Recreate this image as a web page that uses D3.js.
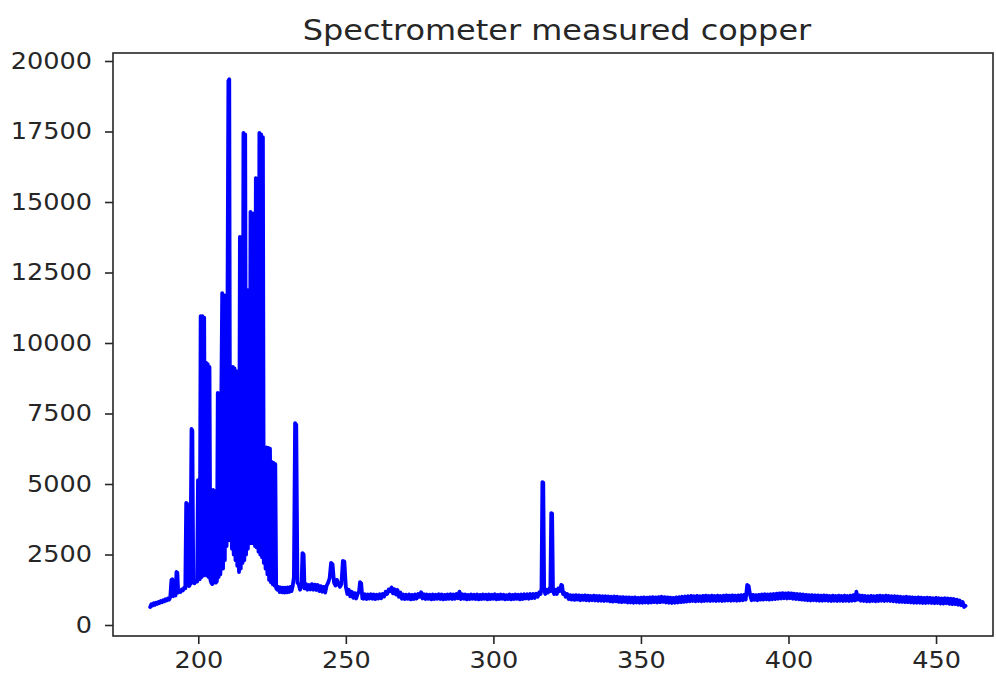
<!DOCTYPE html>
<html>
<head>
<meta charset="utf-8">
<script src="https://d3js.org/d3.v7.min.js"></script>
<style>
    body { margin: 0; background: #fff; }
    text { font-family: "DejaVu Sans", sans-serif; fill: #262626; }
</style>
</head>
<body>
<div id="chart"></div>
<script>
// wavelength (nm) / counts

// rising edge 184-200 nm
var onsetNm = [
    183.7,184.1,184.5,184.9,185.3,185.7,186.1,186.5,186.9,187.3,187.7,188.1,188.5,188.9,189.3,189.7,190.1,190.5,190.9,191.2,
    191.5,191.9,192.3,192.6,192.9,193.2,193.6,194.0,194.4,194.8,195.2,195.6,195.9,196.2,196.5,196.9,197.3,197.7,198.0,198.3,
    198.7,199.1,199.6
];
var onsetCounts = [
    640,740,690,770,720,790,750,820,780,850,810,880,840,910,870,940,900,980,1600,1620,
    1020,1080,1050,1880,1860,1150,1200,1170,1260,1230,1320,1300,4330,4300,1400,1380,1460,6950,6900,1500,
    1480,1560,1540
];

// dense line cluster 200-227 nm
var clusterNm = [
    199.9,200.2,200.5,200.8,201.1,201.4,201.7,202.0,202.3,202.6,202.9,203.2,203.5,203.8,204.1,204.4,204.7,205.0,205.3,205.6,205.9,206.3,
    206.6,206.9,207.2,207.5,207.8,208.1,208.4,208.7,209.0,209.3,209.6,209.9,210.2,210.5,210.8,211.1,211.4,211.7,212.0,212.3,
    212.6,212.9,213.2,213.5,213.8,214.1,214.4,214.7,215.0,215.3,215.6,215.9,216.2,216.5,216.8,217.1,217.4,217.7,218.0,218.3,
    218.6,218.9,219.2,219.5,219.8,220.1,220.4,220.7,221.0,221.3,221.6,221.9,222.2,222.5,222.8,223.1,223.4,223.7,224.0,224.3,
    224.6,224.9,225.2,225.5,225.8,226.1,226.4,226.8
];
var clusterCounts = [
    5140,5100,1620,10950,1700,10950,1750,10900,1800,9300,1750,9250,1700,9150,1600,1500,1450,4790,1500,4750,1500,1550,
    8230,1700,8200,1800,8100,11770,2000,11700,2300,11600,2800,11500,19300,19350,3000,9000,2700,9150,2500,9100,
    2300,9000,2100,3370,1880,13760,2000,13700,2200,17450,2300,17400,2500,11880,2700,11850,2900,14650,2900,14600,
    2900,14600,2800,15850,2750,15800,2600,17450,2500,17400,2400,17300,2200,3440,2000,6300,1800,6280,1600,6250,
    1520,5780,1450,5750,1400,5700,1300,1250
];

// shoulder 227-256 nm
var shoulderNm = [
    227.2,227.6,228.0,228.4,228.8,229.2,229.6,230.0,230.4,230.8,231.2,231.6,232.0,232.4,232.8,233.2,233.6,234.0,234.5,235.0,
    235.3,235.7,236.0,236.5,237.0,237.5,238.0,238.5,239.0,239.5,240.0,240.5,241.0,241.5,242.0,242.5,243.0,243.5,244.0,244.5,
    245.0,245.5,246.0,246.5,247.0,247.5,248.0,248.5,249.0,249.5,250.0,250.5,251.0,251.5,252.0,252.5,253.0,253.5,254.0,254.5,
    254.8,255.2,255.6
];
var shoulderCounts = [
    1350,1170,1330,1160,1320,1150,1320,1160,1330,1170,1350,1200,1380,1700,7160,7100,1500,1450,1250,1420,
    2550,2500,1300,1450,1250,1420,1260,1450,1250,1430,1240,1420,1200,1380,1180,1350,1150,1400,1500,1650,
    2200,2150,1500,1400,1600,1450,1350,1450,2270,2250,1350,1100,1250,1020,1180,960,1130,940,1100,1200,
    1520,1480,940
];

// plateau 256-316 nm
var plateauNm = [
    256,256.5,257,257.5,258,258.5,259,259.5,260,260.5,261,261.5,262,262.5,263,263.5,264,264.5,265,265.5,
    266,266.5,267,267.5,268,268.5,269,269.5,270,270.5,271,271.5,272,272.5,273,273.5,274,274.5,275,275.5,
    276,276.5,277,277.5,278,278.5,279,279.5,280,280.5,281,281.5,282,282.5,283,283.5,284,284.5,285,285.5,
    286,286.5,287,287.5,288,288.5,289,289.5,290,290.5,291,291.5,292,292.5,293,293.5,294,294.5,295,295.5,
    296,296.5,297,297.5,298,298.5,299,299.5,300,300.5,301,301.5,302,302.5,303,303.5,304,304.5,305,305.5,
    306,306.5,307,307.5,308,308.5,309,309.5,310,310.5,311,311.5,312,312.5,313,313.5,314,314.5,315,315.5
];
var plateauCounts = [
    930,1090,920,1080,940,1090,930,1080,920,1070,940,1090,950,1100,1010,1180,1100,1260,1200,1330,
    1120,1270,1080,1240,1000,1150,930,1080,920,1070,930,1080,910,1070,920,1080,940,1100,1000,1160,
    940,1090,920,1080,930,1070,910,1080,920,1070,930,1090,920,1080,910,1070,920,1080,930,1090,
    920,1080,930,1100,950,1180,920,1090,930,1080,910,1070,920,1080,930,1070,920,1080,910,1070,
    920,1080,930,1070,910,1080,920,1070,930,1090,910,1070,920,1080,930,1070,910,1060,920,1080,
    910,1070,920,1080,930,1070,910,1080,920,1090,940,1090,930,1100,950,1100,960,1110,1000,1150
];

// the 324.8 / 327.4 doublet region
var doubletNm = [
    316,316.3,316.6,316.9,317.2,317.6,318,318.5,319,319.3,319.6,319.9,320.2,320.6,321,321.5,322,322.5,323,323.3,
    323.6,324,324.5,325,325.5
];
var doubletCounts = [
    1100,1300,5070,5050,1250,1100,1250,1150,1300,1200,3970,3950,1200,1100,1250,1100,1300,1200,1420,1400,
    1100,1150,1000,1100,920
];

// long tail 326-460 nm
var tailNm = [
    326,326.5,327,327.5,328,328.5,329,329.5,330,330.5,331,331.5,332,332.5,333,333.5,334,334.5,335,335.5,
    336,336.5,337,337.5,338,338.5,339,339.5,340,340.5,341,341.5,342,342.5,343,343.5,344,344.5,345,345.5,
    346,346.5,347,347.5,348,348.5,349,349.5,350,350.5,351,351.5,352,352.5,353,353.5,354,354.5,355,355.5,
    356,356.5,357,357.5,358,358.5,359,359.5,360,360.5,361,361.5,362,362.5,363,363.5,364,364.5,365,365.5,
    366,366.5,367,367.5,368,368.5,369,369.5,370,370.5,371,371.5,372,372.5,373,373.5,374,374.5,375,375.5,
    376,376.5,377,377.5,378,378.5,379,379.5,380,380.5,381,381.5,382,382.5,383,383.5,384,384.5,385,385.5,
    386,386.5,387,387.5,388,388.5,389,389.5,390,390.5,391,391.5,392,392.5,393,393.5,394,394.5,395,395.5,
    396,396.5,397,397.5,398,398.5,399,399.5,400,400.5,401,401.5,402,402.5,403,403.5,404,404.5,405,405.5,
    406,406.5,407,407.5,408,408.5,409,409.5,410,410.5,411,411.5,412,412.5,413,413.5,414,414.5,415,415.5,
    416,416.5,417,417.5,418,418.5,419,419.5,420,420.5,421,421.5,422,422.5,423,423.5,424,424.5,425,425.5,
    426,426.5,427,427.5,428,428.5,429,429.5,430,430.5,431,431.5,432,432.5,433,433.5,434,434.5,435,435.5,
    436,436.5,437,437.5,438,438.5,439,439.5,440,440.5,441,441.5,442,442.5,443,443.5,444,444.5,445,445.5,
    446,446.5,447,447.5,448,448.5,449,449.5,450,450.5,451,451.5,452,452.5,453,453.5,454,454.5,455,455.5,
    456,456.5,457,457.5,458,458.5,459,459.5,460
];
var tailCounts = [
    1060,900,1050,890,1060,900,1050,880,1040,890,1050,880,1040,870,1030,880,1040,870,1030,860,
    1030,860,1020,850,1020,860,1010,840,1000,830,1010,840,1000,820,990,810,990,820,980,800,
    980,800,970,790,980,800,960,790,970,790,980,800,970,790,980,800,990,810,980,800,
    990,810,1000,820,990,800,980,790,970,780,960,790,980,800,990,810,1000,820,1010,830,
    1020,840,1030,850,1020,840,1030,850,1020,840,1030,850,1040,860,1030,850,1040,860,1030,850,
    1040,860,1030,850,1040,860,1050,870,1040,860,1050,870,1040,860,1050,870,1060,880,1070,900,
    1420,1380,1060,880,1070,890,1060,880,1070,900,1080,900,1090,910,1080,900,1090,910,1100,920,
    1110,930,1120,940,1130,950,1120,940,1130,950,1120,930,1110,920,1100,910,1090,900,1080,890,
    1070,880,1060,870,1060,880,1050,870,1050,860,1040,860,1050,870,1040,860,1030,850,1040,860,
    1030,850,1040,860,1030,850,1040,860,1030,850,1040,860,1060,870,1180,900,1050,860,1040,850,
    1030,840,1020,840,1030,850,1020,840,1030,850,1040,860,1030,850,1040,860,1030,850,1020,840,
    1020,830,1010,820,1000,820,990,810,1000,810,990,800,980,790,970,790,980,790,970,780,
    960,780,970,790,960,780,950,770,960,780,950,760,940,760,950,770,940,750,930,740,
    920,740,900,720,870,700,820,640,680
];

var xTicks = [200, 250, 300, 350, 400, 450];
var yTicks = [0, 2500, 5000, 7500, 10000, 12500, 15000, 17500, 20000];
var chartTitle = "Spectrometer measured copper";

var wavelength = [].concat(onsetNm, clusterNm, shoulderNm, plateauNm, doubletNm, tailNm);
var counts = [].concat(onsetCounts, clusterCounts, shoulderCounts, plateauCounts, doubletCounts, tailCounts);
var points = wavelength.map(function(d, i){ return {wl: d, c: counts[i]}; });

const W = 996, H = 679;
const plotLeft = 113, plotRight = 993, plotTop = 53, plotBottom = 636;

var svg = d3.select("#chart").append("svg")
    .attr("width", W)
    .attr("height", H);

var x = d3.scaleLinear().domain([171.1, 469.3]).range([plotLeft, plotRight]);
var y = d3.scaleLinear().domain([-390, 20284]).range([plotBottom, plotTop]);

var line = d3.line()
    .x(d => x(d.wl))
    .y(d => y(d.c));

svg.append("path")
    .datum(points)
    .attr("d", line)
    .attr("fill", "none")
    .attr("stroke", "#0000ff")
    .attr("stroke-width", 3.8)
    .attr("stroke-linejoin", "round")
    .attr("stroke-linecap", "round");

// axes
var xAxis = svg.append("g")
    .attr("transform", "translate(0," + plotBottom + ")")
    .call(d3.axisBottom(x).tickValues(xTicks).tickSize(8).tickPadding(8).tickFormat(d3.format("d")));

var yAxis = svg.append("g")
    .attr("transform", "translate(" + plotLeft + ",0)")
    .call(d3.axisLeft(y).tickValues(yTicks).tickSize(8).tickPadding(13).tickFormat(d3.format("d")));

// the reference glyphs are a bit wider than DejaVu at this height
function widen(sel, k){
    sel.each(function(){
        var len = this.getComputedTextLength();
        d3.select(this).attr("textLength", len * k).attr("lengthAdjust", "spacingAndGlyphs");
    });
}

[xAxis, yAxis].forEach(function(g){
    g.select(".domain").remove();
    g.selectAll(".tick line").attr("stroke", "#262626").attr("stroke-width", 1.6);
    g.selectAll(".tick text").attr("font-size", "23px").attr("font-family", "DejaVu Sans");
    widen(g.selectAll(".tick text"), 1.11);
});

// frame
svg.append("rect")
    .attr("x", plotLeft)
    .attr("y", plotTop)
    .attr("width", plotRight - plotLeft)
    .attr("height", plotBottom - plotTop)
    .attr("fill", "none")
    .attr("stroke", "#262626")
    .attr("stroke-width", 1.6);

var title = svg.append("text")
    .attr("x", (plotLeft + plotRight) / 2 + 4)
    .attr("y", 40)
    .attr("text-anchor", "middle")
    .attr("font-size", "28px")
    .text(chartTitle);
widen(title, 1.14);
</script>
</body>
</html>
